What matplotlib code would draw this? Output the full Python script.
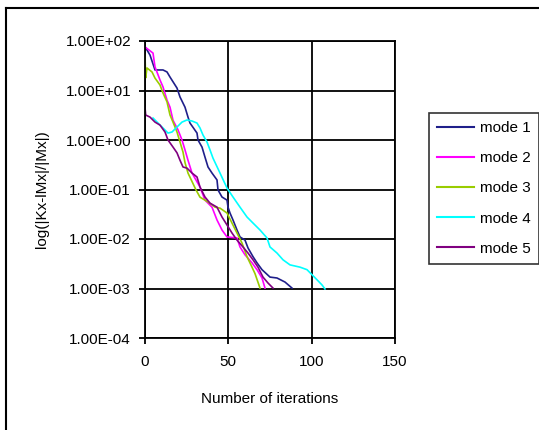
import matplotlib
matplotlib.use("Agg")
import matplotlib.pyplot as plt
from matplotlib.lines import Line2D
from matplotlib.ticker import FixedLocator, FuncFormatter, NullLocator

plt.rcParams["font.family"] = ["Liberation Sans", "DejaVu Sans"]

# residual norm per iteration
mode1_x = [0, 3, 6, 10.8, 13.2, 15, 19.2, 21, 24, 25.8, 27, 31.2, 31.8, 34.2, 36, 37.8,
           40.2, 43.2, 43.8, 46.2, 49.2, 49.8, 51, 52.8, 55.2, 57, 60, 61.8, 64.8, 67.2,
           70.2, 75, 79.2, 84, 88.2]
mode1_y = [76.8, 52, 26, 26, 23.7, 18.7, 11.2, 7.4, 4.6, 2.9, 2.2, 1.38, 1.0, 0.72, 0.45,
           0.285, 0.215, 0.156, 0.098, 0.0705, 0.061, 0.044, 0.0335, 0.0242, 0.0152, 0.011,
           0.0095, 0.0066, 0.0044, 0.0033, 0.0024, 0.0017, 0.00163, 0.00135, 0.00102]

mode2_x = [0, 4.8, 6, 9, 10.8, 13.2, 15, 16.8, 19.8, 22.2, 24, 25.8, 28.2, 33, 36, 40.2,
           43.2, 46.2, 49.2, 55.2, 57, 60, 64.2, 67.2, 70.2, 72]
mode2_y = [75.7, 57, 30, 16.3, 11.8, 6.4, 4.6, 2.5, 1.6, 1.0, 0.63, 0.39, 0.215, 0.112,
           0.061, 0.044, 0.0242, 0.0152, 0.011, 0.0105, 0.0069, 0.0048, 0.0033, 0.0024,
           0.00163, 0.00102]

mode3_x = [0, 0.4, 1.2, 4.2, 6, 9, 10.8, 13.2, 15, 16.8, 19.2, 21, 22.8, 24, 25.8, 30.6,
           33, 37.8, 42, 45, 49.2, 52.2, 55.2, 58.2, 61.2, 64.2, 66, 69]
mode3_y = [52, 18, 28.5, 23.7, 17.8, 12.9, 8.9, 5.9, 3.2, 2.3, 1.45, 0.91, 0.57, 0.35,
           0.215, 0.098, 0.07, 0.056, 0.044, 0.042, 0.0335, 0.021, 0.0132, 0.0083, 0.0044,
           0.0027, 0.002, 0.00102]

mode4_x = [4.8, 7.8, 10.8, 13.8, 16.2, 19.2, 22.2, 25.2, 28.2, 31.2, 33, 34.8, 37.2, 39,
           40.8, 45, 49.2, 52.8, 57, 61.2, 64.8, 69, 73.2, 75, 79.2, 82.8, 87, 93, 97.2,
           100.2, 103.2, 106.2, 108]
mode4_y = [2.78, 2.2, 1.75, 1.38, 1.45, 1.83, 2.3, 2.54, 2.42, 2.2, 1.75, 1.26, 0.91, 0.63,
           0.43, 0.215, 0.107, 0.0705, 0.044, 0.0278, 0.021, 0.0152, 0.0105, 0.0069,
           0.0052, 0.0038, 0.003, 0.0027, 0.0024, 0.0019, 0.0015, 0.00118, 0.00098]

mode5_x = [0, 0.4, 3, 6, 9, 12, 13.8, 16.8, 19.2, 21, 22.8, 25.2, 28.2, 31.2, 33, 36, 39,
           43.2, 46.2, 49.2, 52.2, 55.2, 58.8, 61.8, 64.8, 67.8, 70.8, 73.8, 76.8]
mode5_y = [4.6, 3.2, 2.9, 2.3, 2.0, 1.45, 1.0, 0.72, 0.55, 0.39, 0.285, 0.27, 0.215, 0.179,
           0.112, 0.0705, 0.053, 0.044, 0.0278, 0.0192, 0.0132, 0.0095, 0.0069, 0.0052,
           0.0038, 0.0027, 0.0017, 0.00129, 0.00102]

labels = ["mode 1", "mode 2", "mode 3", "mode 4", "mode 5"]
colors = ["#1f1f8a", "#ff00ff", "#99cc00", "#00ffff", "#800080"]
x_ticks = [0, 50, 100, 150]
y_ticks = [1e-4, 1e-3, 1e-2, 1e-1, 1e0, 1e1, 1e2]

fig = plt.figure(figsize=(5.39, 4.30), dpi=100)
W, H = 539, 430
ax = fig.add_axes([145 / W, 1 - 338 / H, 250 / W, 297 / H])

series = [(mode1_x, mode1_y), (mode2_x, mode2_y), (mode3_x, mode3_y),
          (mode4_x, mode4_y), (mode5_x, mode5_y)]
for (xs, ys), lab, col in zip(series, labels, colors):
    ax.plot(xs, ys, color=col, lw=1.2, label=lab)

ax.set_yscale("log")
ax.set_xlim(0, 150)
ax.set_ylim(1e-4, 1e2)
ax.xaxis.set_major_locator(FixedLocator(x_ticks))
ax.yaxis.set_major_locator(FixedLocator(y_ticks))
ax.yaxis.set_minor_locator(NullLocator())
ax.yaxis.set_major_formatter(FuncFormatter(lambda v, p: f"{v:.2E}"))
ax.grid(True, color="black", lw=1.3)
ax.set_axisbelow(True)
for s in ax.spines.values():
    s.set_color("black")
    s.set_linewidth(1.3)
ax.tick_params(direction="out", length=4, width=1.3, labelsize=11)
ax.tick_params(axis="y", pad=6)
ax.tick_params(axis="x", pad=8)

ax.set_xlabel("Number of iterations", fontsize=11, labelpad=17)
ax.set_ylabel("log(|Kx-lMx|/|Mx|)", fontsize=11, labelpad=12)

leg = fig.legend(loc="upper left", bbox_to_anchor=(429 / W, 1 - 113 / H),
                 frameon=True, fancybox=False, edgecolor="black", fontsize=11,
                 handlelength=2.4, labelspacing=1.05, borderpad=0.55,
                 handletextpad=0.4, borderaxespad=0)
leg.get_frame().set_linewidth(1.2)
for h in leg.get_lines():
    h.set_linewidth(1.5)

# chart area border (only left and top visible in the crop)
fig.add_artist(Line2D([6 / W, 6 / W], [0, 1 - 8 / H], color="black", lw=1.5))
fig.add_artist(Line2D([6 / W, 1], [1 - 8 / H, 1 - 8 / H], color="black", lw=1.5))

fig.savefig("out.png", dpi=100)
